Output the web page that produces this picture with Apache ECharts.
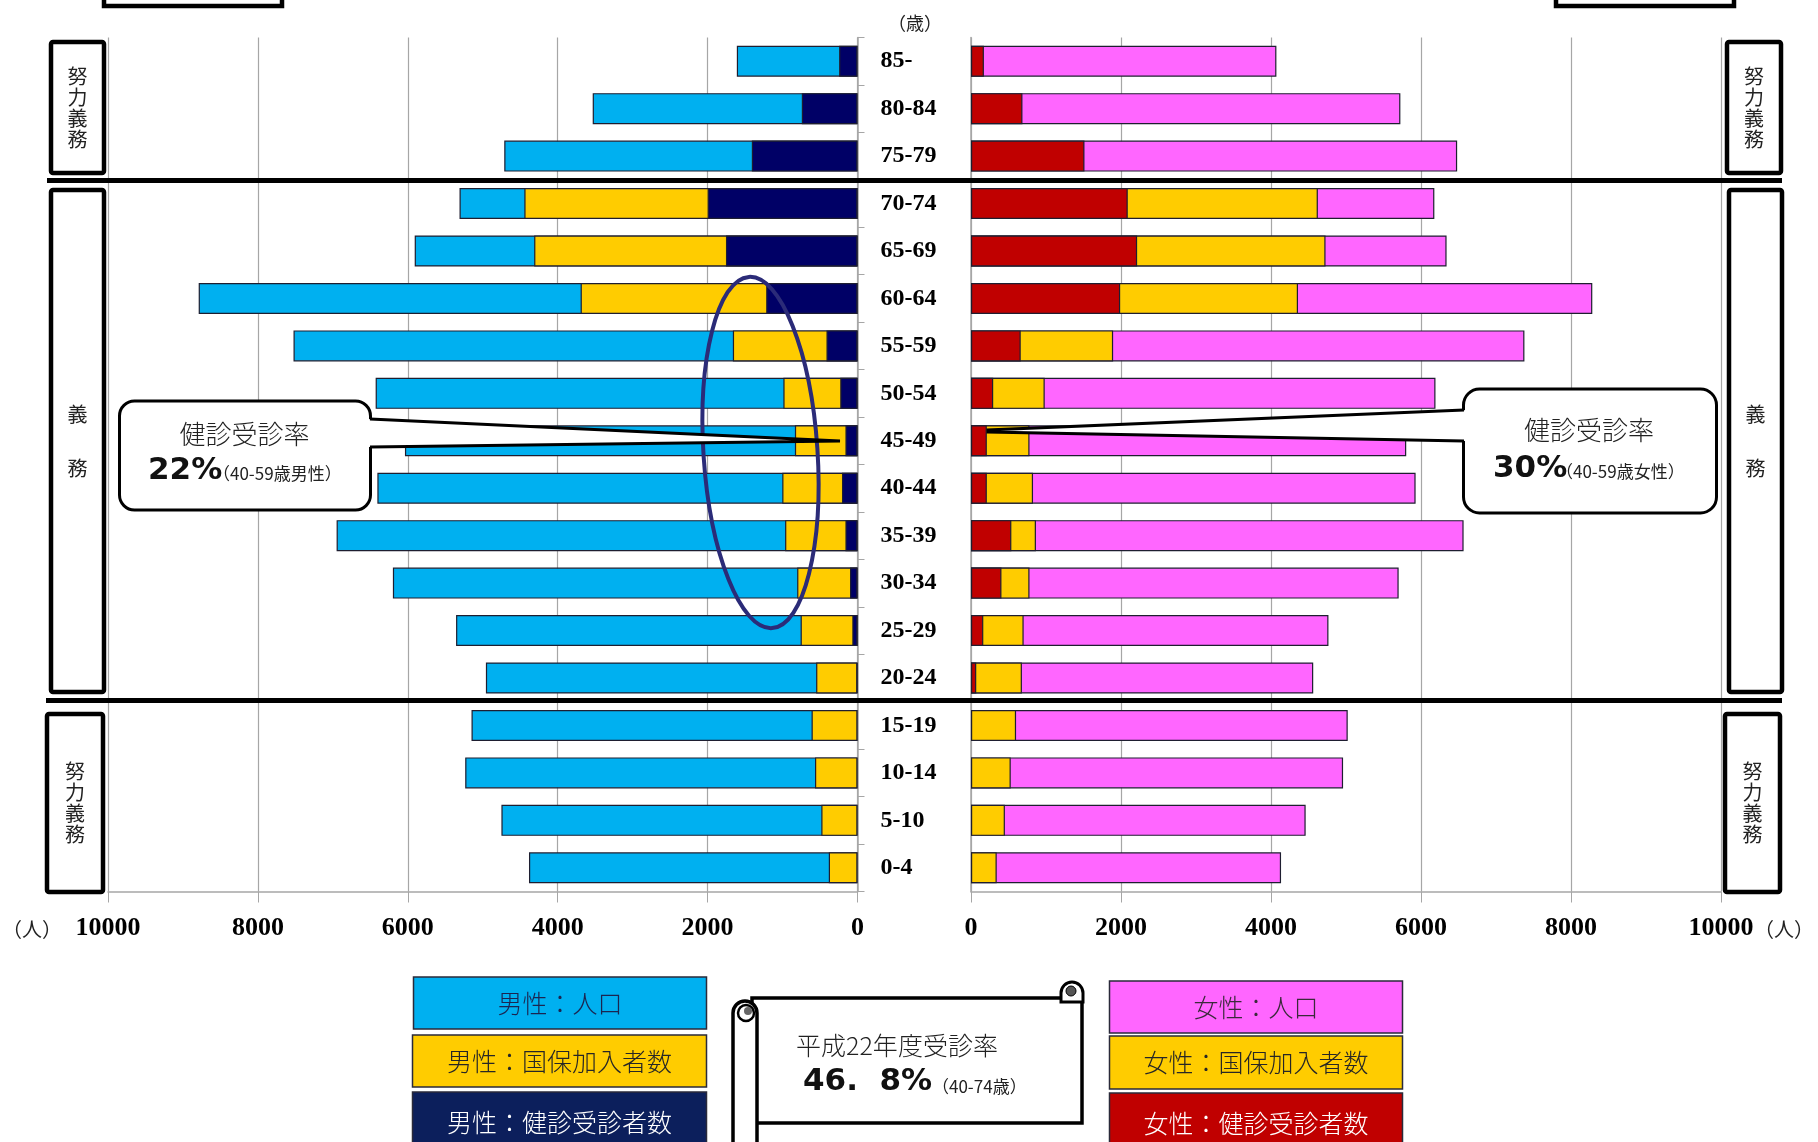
<!DOCTYPE html>
<html lang="ja">
<head>
<meta charset="utf-8">
<title>国保 人口・加入者・健診受診者</title>
<script src="https://cdn.jsdelivr.net/npm/echarts@6/dist/echarts.min.js"></script>
<style>
  html, body { margin: 0; padding: 0; background: #ffffff; }
  #chart { width: 1818px; height: 1142px; }
</style>
</head>
<body>
<div id="chart"></div>
<script>
// Age groups, top to bottom
const ages = ['85-', '80-84', '75-79', '70-74', '65-69', '60-64', '55-59', '50-54', '45-49',
  '40-44', '35-39', '30-34', '25-29', '20-24', '15-19', '10-14', '5-10', '0-4'];

// Male: population, national health insurance members, health check examinees (people)
const malePopulation = [1610, 3533, 4713, 5310, 5908, 8790, 7525, 6429, 6038, 6406, 6950, 6199, 5356, 4958, 5150, 5234, 4751, 4383];
const maleKokuho     = [null, null, null, 4445, 4314, 3694, 1663, 989, 835, 1004, 966, 805, 759, 552, 613, 567, 483, 383];
const maleCheckup    = [245, 743, 1410, 2000, 1755, 1218, 414, 230, 161, 207, 161, 100, 69, 15, null, null, null, null];

// Female: population, national health insurance members, health check examinees (people)
const femalePopulation = [4072, 5725, 6482, 6178, 6341, 8284, 7379, 6193, 5803, 5928, 6568, 5702, 4766, 4563, 5023, 4961, 4462, 4134];
const femaleKokuho     = [null, null, null, 4625, 4727, 4360, 1895, 983, 780, 827, 866, 780, 702, 679, 601, 530, 452, 343];
const femaleCheckup    = [172, 686, 1513, 2090, 2215, 1989, 663, 296, 211, 211, 538, 406, 164, 70, null, null, null, null];

// Value axis range (people)
const axisMax = 10000;
const axisStep = 2000;

const COLORS = {
  malePop: '#00B0F0', maleKokuho: '#FFCC00', maleCheck: '#000066',
  femalePop: '#FF66FF', femaleKokuho: '#FFCC00', femaleCheck: '#C00000'
};

const CJK = '"Noto Sans CJK JP", "Noto Sans", sans-serif';
const SERIF = '"Liberation Serif", "Times New Roman", serif';
const BOLDSANS = '"DejaVu Sans", sans-serif';
const GRID_TOP = 37.5, GRID_H = 854;

function barSeries(name, data, color, idx) {
  return {
    type: 'bar', name, data,
    xAxisIndex: idx, yAxisIndex: idx,
    barWidth: 31, barGap: '-100%',
    itemStyle: { color, borderColor: '#1e1e30', borderWidth: 1.2 },
    silent: true
  };
}

function valueAxis(idx, inverse) {
  return {
    type: 'value', gridIndex: idx, inverse,
    min: 0, max: axisMax, interval: axisStep,
    axisLine: { show: true, lineStyle: { color: '#a6a6a6', width: 1.5 } },
    axisTick: { show: true, length: 11, lineStyle: { color: '#a6a6a6' } },
    splitLine: { show: true, lineStyle: { color: '#a6a6a6', width: 1.2 } },
    axisLabel: {
      margin: 24, color: '#000', fontFamily: SERIF, fontWeight: 'bold', fontSize: 26,
      formatter: v => String(v)
    }
  };
}

// Bordered box with vertical caption
function sideBox(x, y, w, h, text, lh) {
  return [
    { type: 'rect', z: 50, shape: { x, y, width: w, height: h, r: 2 },
      style: { fill: '#fff', stroke: '#000', lineWidth: 4.5 } },
    { type: 'text', z: 51, x: x + w / 2, y: y + h / 2,
      style: { text, fontFamily: CJK, fontSize: 20, lineHeight: lh, fill: '#222', align: 'center', verticalAlign: 'middle' } }
  ];
}

// Legend tile
function legendTile(x, y, w, h, fill, text, color) {
  return [
    { type: 'rect', z: 50, shape: { x, y, width: w, height: h },
      style: { fill, stroke: '#2a2a3a', lineWidth: 1.5 } },
    { type: 'text', z: 51, x: x + w / 2, y: y + h / 2,
      style: { text, fontFamily: CJK, fontWeight: 300, fontSize: 25, fill: color, align: 'center', verticalAlign: 'middle' } }
  ];
}

const graphics = [
  // cut-off frames at the top edge
  { type: 'rect', z: 50, shape: { x: 104, y: -20, width: 178, height: 26 }, style: { fill: '#fff', stroke: '#000', lineWidth: 4.5 } },
  { type: 'rect', z: 50, shape: { x: 1556, y: -20, width: 178, height: 26 }, style: { fill: '#fff', stroke: '#000', lineWidth: 4.5 } },

  // age unit
  { type: 'text', z: 50, x: 915, y: 23, style: { text: '（歳）', fontFamily: CJK, fontSize: 18, fill: '#222', align: 'center', verticalAlign: 'middle' } },
  // people unit
  { type: 'text', z: 50, x: 32, y: 929, style: { text: '（人）', fontFamily: CJK, fontSize: 20, fill: '#222', align: 'center', verticalAlign: 'middle' } },
  { type: 'text', z: 50, x: 1784, y: 929, style: { text: '（人）', fontFamily: CJK, fontSize: 20, fill: '#222', align: 'center', verticalAlign: 'middle' } },

  // thick separators between obligation bands
  { type: 'line', z: 60, shape: { x1: 47, y1: 180.5, x2: 1782, y2: 180.5 }, style: { stroke: '#000', lineWidth: 5 } },
  { type: 'line', z: 60, shape: { x1: 46, y1: 700.5, x2: 1782, y2: 700.5 }, style: { stroke: '#000', lineWidth: 5 } },

  ...sideBox(51, 42, 53, 131, '努\n力\n義\n務', 21),
  ...sideBox(51, 190, 53, 502, '義\n\n\n務', 18),
  ...sideBox(47, 714, 56, 178, '努\n力\n義\n務', 21),
  ...sideBox(1727, 42, 54, 131, '努\n力\n義\n務', 21),
  ...sideBox(1729, 190, 53, 502, '義\n\n\n務', 18),
  ...sideBox(1725, 714, 55, 178, '努\n力\n義\n務', 21),

  // highlight ring around the young-adult members
  { type: 'ellipse', z: 70, x: 760.5, y: 452.5, rotation: 0.066,
    shape: { cx: 0, cy: 0, rx: 57, ry: 176 },
    style: { fill: 'none', stroke: '#2b2b78', lineWidth: 4 } },

  // male callout
  { type: 'rect', z: 80, shape: { x: 119.5, y: 401, width: 251, height: 109, r: 15 },
    style: { fill: '#fff', stroke: '#000', lineWidth: 3 } },
  { type: 'polygon', z: 81, shape: { points: [[366, 419], [840, 441], [366, 447]] },
    style: { fill: '#fff', stroke: 'none' } },
  { type: 'polyline', z: 82, shape: { points: [[370, 419], [840, 441], [370, 447]] },
    style: { fill: 'none', stroke: '#000', lineWidth: 3 } },
  { type: 'text', z: 83, x: 244.5, y: 434, style: { text: '健診受診率', fontFamily: CJK, fontWeight: 300, fontSize: 26, fill: '#222', align: 'center', verticalAlign: 'middle' } },
  { type: 'text', z: 83, x: 148, y: 471, style: { text: '22%', fontFamily: BOLDSANS, fontWeight: 'bold', fontSize: 31, fill: '#111', align: 'left', verticalAlign: 'middle' } },
  { type: 'text', z: 83, x: 213, y: 474, style: { text: '（40-59歳男性）', fontFamily: CJK, fontSize: 17, fill: '#222', align: 'left', verticalAlign: 'middle' } },

  // female callout
  { type: 'rect', z: 80, shape: { x: 1463.5, y: 389, width: 253, height: 124, r: 16 },
    style: { fill: '#fff', stroke: '#000', lineWidth: 3 } },
  { type: 'polygon', z: 81, shape: { points: [[1468, 410], [988, 430], [988, 432], [1468, 441]] },
    style: { fill: '#fff', stroke: 'none' } },
  { type: 'polyline', z: 82, shape: { points: [[1464, 410], [988, 430], [988, 432], [1464, 441]] },
    style: { fill: 'none', stroke: '#000', lineWidth: 3 } },
  { type: 'text', z: 83, x: 1589, y: 430, style: { text: '健診受診率', fontFamily: CJK, fontWeight: 300, fontSize: 26, fill: '#222', align: 'center', verticalAlign: 'middle' } },
  { type: 'text', z: 83, x: 1493, y: 469, style: { text: '30%', fontFamily: BOLDSANS, fontWeight: 'bold', fontSize: 31, fill: '#111', align: 'left', verticalAlign: 'middle' } },
  { type: 'text', z: 83, x: 1556, y: 472, style: { text: '（40-59歳女性）', fontFamily: CJK, fontSize: 17, fill: '#222', align: 'left', verticalAlign: 'middle' } },

  // legend tiles
  ...legendTile(413.5, 977, 293, 52, '#00B0F0', '男性：人口', '#1b2550'),
  ...legendTile(412.5, 1035, 294, 52, '#FFCC00', '男性：国保加入者数', '#262626'),
  ...legendTile(412.5, 1092, 294, 60, '#0C1F5C', '男性：健診受診者数', '#ffffff'),
  ...legendTile(1109.5, 981, 293, 52, '#FF66FF', '女性：人口', '#3a2a3a'),
  ...legendTile(1109.5, 1036, 293, 53, '#FFCC00', '女性：国保加入者数', '#262626'),
  ...legendTile(1109.5, 1093, 293, 60, '#C00000', '女性：健診受診者数', '#ffffff'),

  // scroll banner with the overall rate
  { type: 'rect', z: 50, shape: { x: 752, y: 998, width: 330, height: 125 },
    style: { fill: '#fff', stroke: '#000', lineWidth: 3.5 } },
  { type: 'rect', z: 51, shape: { x: 1061, y: 982, width: 22, height: 20, r: [11, 11, 0, 0] },
    style: { fill: '#fff', stroke: '#000', lineWidth: 3 } },
  { type: 'circle', z: 52, shape: { cx: 1071, cy: 991, r: 5 }, style: { fill: '#555', stroke: '#000', lineWidth: 1 } },
  { type: 'rect', z: 51, shape: { x: 733, y: 1001, width: 24, height: 170, r: 12 },
    style: { fill: '#fff', stroke: '#000', lineWidth: 3.5 } },
  { type: 'circle', z: 52, shape: { cx: 746, cy: 1013, r: 8 }, style: { fill: '#fff', stroke: '#000', lineWidth: 2.5 } },
  { type: 'circle', z: 53, shape: { cx: 748, cy: 1011, r: 4 }, style: { fill: '#666' } },
  { type: 'text', z: 55, x: 897, y: 1045, style: { text: '平成22年度受診率', fontFamily: CJK, fontWeight: 300, fontSize: 25, fill: '#222', align: 'center', verticalAlign: 'middle' } },
  { type: 'text', z: 55, x: 803, y: 1082, style: { text: '46.  8%', fontFamily: BOLDSANS, fontWeight: 'bold', fontSize: 31, fill: '#111', align: 'left', verticalAlign: 'middle' } },
  { type: 'text', z: 55, x: 932, y: 1087, style: { text: '（40-74歳）', fontFamily: CJK, fontSize: 17, fill: '#222', align: 'left', verticalAlign: 'middle' } }
];

const option = {
  backgroundColor: '#ffffff',
  animation: false,
  grid: [
    { left: 108, width: 749.5, top: GRID_TOP, height: GRID_H, containLabel: false, outerBoundsMode: 'none' },
    { left: 971, width: 750, top: GRID_TOP, height: GRID_H, containLabel: false, outerBoundsMode: 'none' }
  ],
  xAxis: [valueAxis(0, true), valueAxis(1, false)],
  yAxis: [
    {
      type: 'category', gridIndex: 0, data: ages, inverse: true, position: 'right',
      axisLine: { show: true, lineStyle: { color: '#a6a6a6', width: 1.5 } },
      axisTick: { show: true, length: 7, lineStyle: { color: '#a6a6a6' } },
      splitLine: { show: false },
      axisLabel: { margin: 23, align: 'left', color: '#000', fontFamily: SERIF, fontWeight: 'bold', fontSize: 24 }
    },
    {
      type: 'category', gridIndex: 1, data: ages, inverse: true, position: 'left',
      axisLine: { show: true, lineStyle: { color: '#a6a6a6', width: 1.5 } },
      axisTick: { show: false }, splitLine: { show: false }, axisLabel: { show: false }
    }
  ],
  series: [
    barSeries('男性：人口', malePopulation, COLORS.malePop, 0),
    barSeries('男性：国保加入者数', maleKokuho, COLORS.maleKokuho, 0),
    barSeries('男性：健診受診者数', maleCheckup, COLORS.maleCheck, 0),
    barSeries('女性：人口', femalePopulation, COLORS.femalePop, 1),
    barSeries('女性：国保加入者数', femaleKokuho, COLORS.femaleKokuho, 1),
    barSeries('女性：健診受診者数', femaleCheckup, COLORS.femaleCheck, 1)
  ],
  graphic: { elements: graphics }
};

const chart = echarts.init(document.getElementById('chart'), null, { renderer: 'canvas' });
chart.setOption(option);
</script>
</body>
</html>
